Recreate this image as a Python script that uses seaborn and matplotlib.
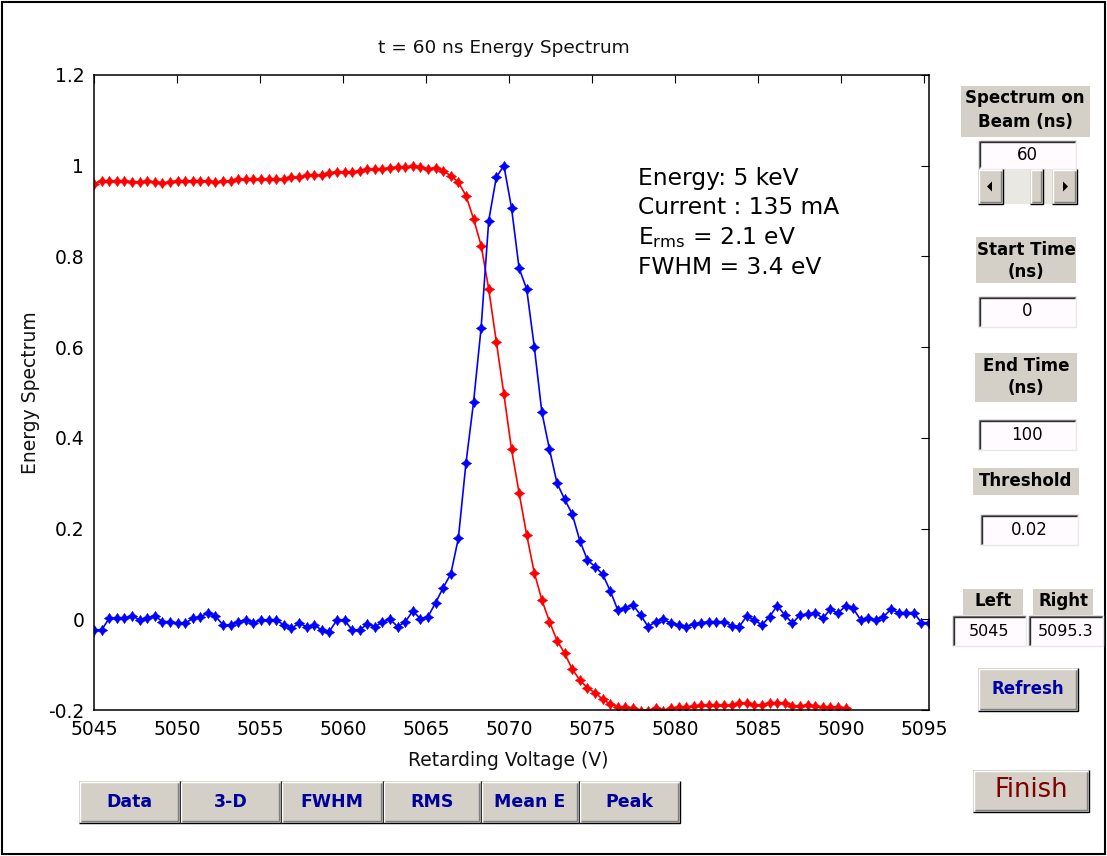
import numpy as np
import pandas as pd
import matplotlib
matplotlib.use("Agg")
import matplotlib.pyplot as plt
import seaborn as sns
from matplotlib.patches import Rectangle, Polygon
from matplotlib.lines import Line2D

# ---------------- data ----------------
v_left = 5045.0
v_right = 5095.3

# blue: energy spectrum (derivative), 111 samples from v_left to v_right
spectrum = [
    -0.0235, -0.0235, 0.002, 0.002, 0.002, 0.008, -0.0015, 0.0037, 0.008, -0.005,
    -0.005, -0.009, -0.009, 0.002, 0.006, 0.013, 0.007, -0.0125, -0.0125, -0.005,
    -0.0015, -0.009, -0.0015, -0.0015, -0.0015, -0.0125, -0.020, -0.009, -0.016, -0.0125,
    -0.0235, -0.027, -0.0015, -0.0015, -0.0235, -0.0235, -0.0104, -0.0163, -0.0066, 0.0,
    -0.0163, -0.0055, 0.0183, 0.001, 0.0057, 0.0366, 0.0697, 0.0999, 0.1786, 0.344,
    0.4785, 0.643, 0.879, 0.9746, 1.0, 0.9076, 0.774, 0.728, 0.601, 0.4564,
    0.375, 0.300, 0.2646, 0.232, 0.1733, 0.1308, 0.116, 0.0995, 0.063, 0.0205,
    0.0256, 0.0315, 0.0095, -0.0163, -0.0053, 0.0, -0.0088, -0.0126, -0.0163, -0.0104,
    -0.0075, -0.0053, -0.0053, -0.0053, -0.014, -0.0163, 0.0073, -0.0015, -0.0126, 0.0058,
    0.030, 0.0095, -0.0088, 0.0095, 0.011, 0.0147, 0.002, 0.022, 0.0132, 0.0293,
    0.0242, -0.0015, 0.002, -0.0015, 0.0058, 0.022, 0.0147, 0.0147, 0.0147, -0.0075,
    -0.0075,
]

# red: integrated (retarding) signal, first 100 samples
signal = [
    0.960, 0.9665, 0.9665, 0.9665, 0.9665, 0.965, 0.963, 0.9665, 0.9635, 0.961,
    0.965, 0.9665, 0.9665, 0.9665, 0.9665, 0.9665, 0.963, 0.9665, 0.9665, 0.970,
    0.970, 0.970, 0.970, 0.970, 0.970, 0.970, 0.9745, 0.9745, 0.979, 0.979,
    0.979, 0.985, 0.986, 0.986, 0.986, 0.989, 0.992, 0.993, 0.993, 0.996,
    0.997, 0.997, 1.000, 0.997, 0.993, 0.996, 0.9885, 0.978, 0.9636, 0.934,
    0.883, 0.824, 0.728, 0.612, 0.496, 0.375, 0.279, 0.186, 0.103, 0.0426,
    -0.005, -0.047, -0.075, -0.110, -0.134, -0.151, -0.162, -0.176, -0.187, -0.193,
    -0.193, -0.196, -0.2015, -0.2015, -0.196, -0.2015, -0.196, -0.194, -0.193, -0.192,
    -0.19, -0.19, -0.19, -0.19, -0.19, -0.185, -0.185, -0.19, -0.188, -0.184,
    -0.184, -0.184, -0.192, -0.192, -0.188, -0.192, -0.193, -0.193, -0.193, -0.196,
]

x_ticks = [5045, 5050, 5055, 5060, 5065, 5070, 5075, 5080, 5085, 5090, 5095]
y_ticks = [-0.2, 0, 0.2, 0.4, 0.6, 0.8, 1.0, 1.2]
y_tick_labels = ["-0.2", "0", "0.2", "0.4", "0.6", "0.8", "1", "1.2"]

info_lines = ["Energy: 5 keV", "Current : 135 mA", r"E$_{\mathrm{rms}}$ = 2.1 eV", "FWHM = 3.4 eV"]
bottom_buttons = ["Data", "3-D", "FWHM", "RMS", "Mean E", "Peak"]

voltage = np.linspace(v_left, v_right, len(spectrum))

# ---------------- figure ----------------
sns.set_style("white")
plt.rcParams["font.family"] = ["DejaVu Sans"]
plt.rcParams["mathtext.fontset"] = "dejavusans"

W, H = 1107, 856
fig = plt.figure(figsize=(W / 100, H / 100), dpi=100)
fig.patch.set_facecolor("white")

AX_L, AX_R, AX_T, AX_B = 94, 929, 75, 710
ax = fig.add_axes([AX_L / W, 1 - AX_B / H, (AX_R - AX_L) / W, (AX_B - AX_T) / H])
ax.set_facecolor("white")

star = [(0, 1), (0.4, 0.4), (1, 0), (0.4, -0.4), (0, -1), (-0.4, -0.4), (-1, 0), (-0.4, 0.4), (0, 1)]

df_sig = pd.DataFrame({"V": voltage[: len(signal)], "S": signal})
df_spec = pd.DataFrame({"V": voltage, "S": spectrum})

sns.lineplot(data=df_sig, x="V", y="S", ax=ax, color="#FF0000", linewidth=1.2,
             marker=star, markersize=7.5, markerfacecolor="#FF0000",
             markeredgecolor="#FF0000", markeredgewidth=0.3,
             estimator=None, sort=False, errorbar=None)
sns.lineplot(data=df_spec, x="V", y="S", ax=ax, color="#0000FF", linewidth=1.2,
             marker=star, markersize=7.5, markerfacecolor="#0000FF",
             markeredgecolor="#0000FF", markeredgewidth=0.3,
             estimator=None, sort=False, errorbar=None)

ax.set_xlim(v_left, v_right)
ax.set_ylim(-0.2, 1.2)
ax.set_xticks(x_ticks)
ax.set_xticklabels([str(t) for t in x_ticks])
ax.set_yticks(y_ticks)
ax.set_yticklabels(y_tick_labels)
ax.tick_params(direction="in", length=6, width=0.8, top=True, right=True,
               labelsize=13.5, pad=7, colors="black")
for s in ax.spines.values():
    s.set_color("black")
    s.set_linewidth(1.1)
    s.set_visible(True)

ax.set_xlabel("Retarding Voltage (V)", fontsize=13.5, color="#111111")
ax.xaxis.set_label_coords((508 - AX_L) / (AX_R - AX_L), -(751 - AX_B) / (AX_B - AX_T))
ax.set_ylabel("Energy Spectrum", fontsize=13.5, color="#111111")
ax.yaxis.set_label_coords(-(94 - 40) / (AX_R - AX_L), 0.5)
fig.text(504 / W, 1 - 48 / H, "t = 60 ns Energy Spectrum", fontsize=13.3,
         ha="center", va="center", color="#111111")

for i, line in enumerate(info_lines):
    fig.text(638 / W, 1 - (178 + 30 * i) / H, line, fontsize=16.8,
             ha="left", va="center", color="black")

# ---------------- GUI widgets ----------------
GRAY = "#D4D0C8"


def frect(x0, y0, x1, y1, fc, z=1):
    fig.add_artist(Rectangle((x0 / W, 1 - y1 / H), (x1 - x0) / W, (y1 - y0) / H,
                             transform=fig.transFigure, facecolor=fc,
                             edgecolor="none", zorder=z))


def fline(xs, ys, color, lw=0.8):
    fig.add_artist(Line2D([x / W for x in xs], [1 - y / H for y in ys],
                          transform=fig.transFigure, color=color, linewidth=lw,
                          solid_capstyle="butt", solid_joinstyle="miter"))


def raised(x0, y0, x1, y1):
    frect(x0, y0, x1, y1, GRAY)
    fline([x0 + 0.5, x0 + 0.5, x1], [y1, y0 + 0.5, y0 + 0.5], "white", 1.0)
    fline([x0, x1 - 0.5, x1 - 0.5], [y1 - 0.5, y1 - 0.5, y0], "black", 1.0)
    fline([x0 + 1.5, x1 - 2, x1 - 2], [y1 - 2, y1 - 2, y0 + 1.5], "#808080", 1.0)


def sunken(x0, y0, x1, y1):
    frect(x0, y0, x1, y1, "#FFFBFF")
    fline([x0 + 0.5, x0 + 0.5, x1], [y1, y0 + 0.5, y0 + 0.5], "#808080", 1.0)
    fline([x0 + 2, x0 + 2, x1 - 1.5], [y1 - 1.5, y0 + 2, y0 + 2], "#303030", 1.0)
    fline([x0, x1 - 0.5, x1 - 0.5], [y1 - 0.5, y1 - 0.5, y0], "#E8E8E8", 1.0)


def ftext(x, y, s, size=12, weight="bold", color="black"):
    fig.text(x / W, 1 - y / H, s, fontsize=size, fontweight=weight, color=color,
             ha="center", va="center")


def tri(points, color="black"):
    fig.add_artist(Polygon([(x / W, 1 - y / H) for x, y in points], closed=True,
                           transform=fig.transFigure, facecolor=color, edgecolor="none"))


# Spectrum on Beam
frect(961, 86, 1090, 137, GRAY)
ftext(1025, 98, "Spectrum on")
ftext(1025, 122, "Beam (ns)")
sunken(978, 140, 1076, 169)
ftext(1027, 155, "60", size=12, weight="normal")
# slider
frect(978, 169, 1077, 204, "#EAE8E3")
raised(978, 169, 1003, 204)
raised(1052, 169, 1077, 204)
raised(1030, 169, 1043, 204)
tri([(987, 186.5), (992, 181.5), (992, 191.5)])
tri([(1068, 186.5), (1063, 181.5), (1063, 191.5)])

# Start time
frect(976, 237, 1076, 283, GRAY)
ftext(1026, 250, "Start Time")
ftext(1026, 272, "(ns)")
sunken(978, 296, 1076, 327)
ftext(1027, 311, "0", size=12, weight="normal")

# End time
frect(975, 353, 1077, 402, GRAY)
ftext(1026, 366, "End Time")
ftext(1026, 388, "(ns)")
sunken(978, 419, 1076, 450)
ftext(1027, 435, "100", size=12, weight="normal")

# Threshold
frect(973, 468, 1079, 495, GRAY)
ftext(1026, 481, "Threshold")
sunken(980, 514, 1078, 545)
ftext(1029, 530, "0.02", size=12, weight="normal")

# Left / Right
frect(963, 589, 1023, 615, GRAY)
ftext(993, 601, "Left")
frect(1033, 589, 1093, 615, GRAY)
ftext(1063, 601, "Right")
sunken(952, 615, 1026, 646)
ftext(989, 631, "5045", size=11.5, weight="normal")
sunken(1028, 615, 1103, 646)
ftext(1066, 631, "5095.3", size=11.5, weight="normal")

# Refresh / Finish
raised(978, 668, 1078, 711)
ftext(1028, 689, "Refresh", size=12, color="#0000A8")
raised(973, 770, 1089, 812)
ftext(1031, 790, "Finish", size=18.5, weight="normal", color="#7F0000")

# bottom buttons
btn_x = [79, 180, 281, 383, 481, 579, 680]
for i, name in enumerate(bottom_buttons):
    raised(btn_x[i], 781, btn_x[i + 1], 823)
    ftext((btn_x[i] + btn_x[i + 1]) / 2, 802, name, size=12.5, color="#00009A")

# outer frame
fig.add_artist(Rectangle((2 / W, 1 - 854 / H), 1103 / W, 852 / H,
                         transform=fig.transFigure, facecolor="none",
                         edgecolor="black", linewidth=1.5))

fig.savefig("out.png", dpi=100, facecolor="white")
